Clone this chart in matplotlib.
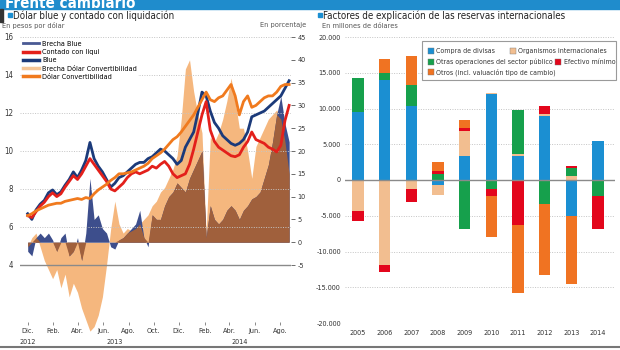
import matplotlib
matplotlib.use('Agg')
import matplotlib.pyplot as plt
import matplotlib.dates as mdates
from matplotlib import font_manager as fm
from matplotlib.lines import Line2D
from matplotlib.patches import Rectangle
import numpy as np
import pandas as pd

# pick a narrow font if one is installed
_fonts = fm.fontManager.ttflist
_names = {f.name for f in _fonts}
if 'Liberation Sans Narrow' in _names:
    plt.rcParams['font.family'] = ['Liberation Sans Narrow', 'DejaVu Sans']
    SCALE = 1.0
    LEG_FS = 5.5
elif any(f.name == 'DejaVu Sans' and 'condensed' in str(f.stretch) for f in _fonts):
    plt.rcParams['font.family'] = ['DejaVu Sans']
    plt.rcParams['font.stretch'] = 'condensed'
    SCALE = 0.95
    LEG_FS = 5.0
else:
    plt.rcParams['font.family'] = ['Liberation Sans', 'DejaVu Sans']
    SCALE = 0.88
    LEG_FS = 4.6
plt.rcParams['axes.unicode_minus'] = False

# ---- left panel data (every 10 days from 1 Dec 2012) ----
fechas = pd.date_range('2012-12-01', periods=64, freq='10D')
blue = [6.7, 6.4, 6.9, 7.2, 7.4, 7.8, 7.95, 7.7, 7.85, 8.2,
        8.5, 8.9, 8.6, 9.0, 9.5, 10.45, 9.6, 9.2, 8.9, 8.5,
        8.1, 8.3, 8.6, 8.7, 8.9, 9.1, 9.3, 9.4, 9.4, 9.6,
        9.7, 9.9, 10.1, 10.0, 9.8, 9.6, 9.3, 9.5, 10.2, 10.6,
        11.0, 12.0, 13.1, 12.9, 12.1, 11.5, 11.2, 10.8, 10.6, 10.4,
        10.3, 10.4, 10.6, 11.0, 11.8, 11.9, 12.0, 12.1, 12.3, 12.5,
        12.7, 12.9, 13.3, 13.7]
ccl = [6.6, 6.5, 6.8, 7.1, 7.3, 7.6, 7.8, 7.6, 7.75, 8.1,
       8.4, 8.7, 8.5, 8.8, 9.2, 9.6, 9.3, 9.0, 8.7, 8.4,
       8.0, 7.9, 8.1, 8.3, 8.6, 8.8, 8.9, 8.8, 8.9, 9.0,
       9.2, 9.1, 9.3, 9.45, 9.2, 8.8, 8.6, 8.7, 8.8, 9.3,
       10.1, 11.0, 11.9, 12.6, 11.1, 10.5, 10.2, 10.05, 9.9, 9.75,
       9.7, 9.8, 10.2, 10.5, 11.0, 10.6, 10.5, 10.4, 10.2, 10.1,
       9.95, 10.3, 11.6, 12.4]
convert = [6.6, 6.7, 6.85, 6.95, 7.05, 7.15, 7.2, 7.25, 7.25, 7.35,
           7.4, 7.45, 7.5, 7.45, 7.55, 7.5, 7.75, 7.95, 8.1, 8.25,
           8.45, 8.6, 8.8, 8.8, 8.85, 8.9, 9.0, 9.1, 9.2, 9.35,
           9.6, 9.75, 9.9, 10.1, 10.35, 10.6, 10.75, 11.0, 11.3, 11.6,
           11.9, 12.3, 12.7, 13.1, 12.7, 12.6, 12.8, 12.9, 13.2, 13.5,
           12.9, 11.9, 12.6, 12.9, 12.3, 12.4, 12.6, 12.8, 12.9, 12.9,
           13.1, 13.4, 13.5, 13.5]
brecha_conv = [-1, 1, 2, -1, -4, -6, -8, -6, -10, -7,
               -12, -9, -11, -14.5, -17, -19.5, -18.5, -16, -12, -5,
               3, 9, 4, 2, 3, 2.5, 3, 4, 5, 6,
               8, 9, 11, 12, 14, 16, 19, 27, 38, 40,
               33, 28, 24, 2, 23, 22, 24, 27, 31, 36,
               31, 25, 25, 20, 14, 21, 23, 25, 27, 28,
               29, 27, 22, 15]
brecha_blue = [-2, -3, 1, 2, 1, 2, 0.5, -2, 1, 2,
               -3, -2, 1, -4, 2, 14, 5, 6, 3, 2,
               -1, -1.5, 0.5, 1, 2, 3, 4, 7, 1, -1,
               6, 5, 5, 8, 10, 11, 13, 12, 11, 14,
               16, 18, 20, 1, 8, 5, 4, 5, 7, 8,
               7, 5, 7, 8, 9.5, 10, 11, 14, 17, 22,
               28, 32, 26, 22]
meses = ['Dic.', 'Feb.', 'Abr.', 'Jun.', 'Ago.', 'Oct.', 'Dic.', 'Feb.', 'Abr.', 'Jun.', 'Ago.']

# ---- right panel data (millones de dólares) ----
anios = ['2005', '2006', '2007', '2008', '2009', '2010', '2011', '2012', '2013', '2014']
compra = [9500, 14000, 10400, -700, 3400, 12000, 3300, 9000, -5100, 5500]
organismos = [-4400, -11900, -1200, -1400, 3400, 200, 400, 300, 600, 0]
otras_op = [4700, 950, 2900, 900, -6900, -1200, 6100, -3400, 1100, -2300]
efectivo = [-1400, -900, -1900, 300, 500, -1000, -6300, 1000, 200, -4600]
otros = [0, 1950, 4000, 1300, 1150, -5750, -9500, -9900, -9500, 0]

W, H = 620, 350
def fx(px): return px / W
def fy(py): return 1 - py / H
def fs(s): return s * SCALE

C_BLUE_BAR = '#1b8fd2'
C_TAN = '#f2be90'
C_GREEN = '#16a04c'
C_RED = '#e3061c'
C_ORANGE = '#f07322'
TXT = '#333333'
GRID = '#c4c4c4'

fig = plt.figure(figsize=(6.2, 3.5), dpi=100)

# header band
fig.patches.append(Rectangle((0, fy(9)), 1, 1 - fy(9), transform=fig.transFigure,
                             color='#1f8ccc', zorder=0))
fig.text(fx(5), fy(7.5), 'Frente cambiario', color='white', fontsize=fs(11.5),
         fontweight='bold', va='baseline')
fig.patches.append(Rectangle((0, fy(22)), fx(3), fy(9) - fy(22), transform=fig.transFigure,
                             color='#333333'))
fig.add_artist(Line2D([0, 1], [fy(347), fy(347)], transform=fig.transFigure,
                      color='#777777', lw=1.5))

# titles
for x0, title in [(8, 'Dólar blue y contado con liquidación'),
                  (318, 'Factores de explicación de las reservas internacionales')]:
    fig.patches.append(Rectangle((fx(x0), fy(17)), fx(3.5), fy(13.5) - fy(17),
                                 transform=fig.transFigure, color=C_BLUE_BAR))
    fig.text(fx(x0 + 5), fy(15.5), title, fontsize=fs(7.4), color='#222222', va='center')
fig.text(fx(2), fy(25.5), 'En pesos por dólar', fontsize=fs(5.6), color='#555555',
         va='center')
fig.text(fx(306), fy(25.5), 'En porcentaje', fontsize=fs(5.6), color='#555555',
         va='center', ha='right')
fig.text(fx(322), fy(25.5), 'En millones de dólares', fontsize=fs(5.6), color='#555555',
         va='center')

# ---------------- left panel ----------------
ax_p = fig.add_axes([fx(20), fy(322), fx(291) - fx(20), fy(37) - fy(322)])
ax_l = ax_p.twinx()
ax_p.yaxis.tick_right()
ax_l.yaxis.tick_left()

x0 = mdates.date2num(pd.Timestamp('2012-12-01'))
x1 = mdates.date2num(pd.Timestamp('2014-08-01'))
ppd = (280 - 27.7) / (x1 - x0)
ax_p.set_xlim(x0 - (27.7 - 20) / ppd, x1 + (291 - 280) / ppd)
ax_p.set_ylim(-17.5, 45)
ax_l.set_ylim(1, 16)

bc = np.array(brecha_conv, float)
bb = np.array(brecha_blue, float)
same = np.sign(bc) == np.sign(bb)
overlap = np.where(same, np.sign(bb) * np.minimum(np.abs(bb), np.abs(bc)), 0)
ax_p.fill_between(fechas, 0, bc, color='#f5b77e', lw=0, clip_on=False)
ax_p.fill_between(fechas, 0, bb, color='#3d4e8c', lw=0, clip_on=False)
ax_p.fill_between(fechas, 0, overlap, color='#a0603c', lw=0, clip_on=False)

for v in range(6, 17, 2):
    ax_l.axhline(v, color=GRID, lw=0.7, ls=(0, (1, 1.5)), zorder=0)
ax_l.axhline(4, color='#8a8a8a', lw=1.0)

ax_l.plot(fechas, blue, color='#1b3a7a', lw=2.0)
ax_l.plot(fechas, ccl, color='#e3201b', lw=2.0)
ax_l.plot(fechas, convert, color='#f07a1e', lw=2.0)

for a in (ax_p, ax_l):
    for s in a.spines.values():
        s.set_visible(False)

ax_p.set_yticks(range(-5, 50, 5))
ax_p.tick_params(axis='y', length=3, width=0.6, color='#555555', pad=1.5,
                 labelsize=fs(5.5), labelcolor=TXT)
ax_l.set_yticks(range(4, 17, 2))
ax_l.tick_params(axis='y', length=0, pad=5, labelsize=fs(6), labelcolor=TXT)

tick_dates = pd.date_range('2012-12-01', '2014-08-01', freq='2MS')
ax_p.set_xticks(mdates.date2num(tick_dates))
ax_p.set_xticklabels(meses)
ax_p.tick_params(axis='x', length=2, width=0.6, color='#777777', pad=2,
                 labelsize=fs(5.5), labelcolor=TXT)
for xp, yr in [(27.7, '2012'), (115, '2013'), (240, '2014')]:
    fig.text(fx(xp), fy(342), yr, fontsize=fs(5.5), color=TXT, ha='center', va='center')

handles = [Line2D([], [], color='#4a5a94', lw=2),
           Line2D([], [], color='#e3201b', lw=2.5),
           Line2D([], [], color='#1b3a7a', lw=2.5),
           Line2D([], [], color='#f5c596', lw=2.5),
           Line2D([], [], color='#f07a1e', lw=2.5)]
labels = ['Brecha Blue', 'Contado con liqui', 'Blue', 'Brecha Dólar Convertibilidad',
          'Dólar Convertibilidad']
fig.legend(handles, labels, loc='upper left', bbox_to_anchor=(fx(22), fy(40)),
           frameon=True, facecolor='white', edgecolor='none', framealpha=1,
           fontsize=fs(5.5), handlelength=2.2, handletextpad=0.5, labelspacing=0.3,
           borderpad=0.1, borderaxespad=0)

# ---------------- right panel ----------------
ax_b = fig.add_axes([fx(345), fy(323), fx(615) - fx(345), fy(37) - fy(323)])
x = np.arange(len(anios))
series = [(compra, C_BLUE_BAR), (organismos, C_TAN), (otras_op, C_GREEN),
          (efectivo, C_RED), (otros, C_ORANGE)]
pos = np.zeros(len(anios))
neg = np.zeros(len(anios))
for vals, col in series:
    v = np.array(vals, float)
    bottom = np.where(v >= 0, pos, neg)
    ax_b.bar(x, v, 0.42, bottom=bottom, color=col, edgecolor='none', zorder=2)
    pos += np.clip(v, 0, None)
    neg += np.clip(v, None, 0)

ax_b.set_xlim(-0.49, 9.64)
ax_b.set_ylim(-20000, 20000)
yt = list(range(-20000, 20001, 5000))
ax_b.set_yticks(yt)
ax_b.set_yticklabels([f'{v:,}'.replace(',', '.') for v in yt])
for v in yt:
    if v != 0:
        ax_b.axhline(v, color=GRID, lw=0.7, ls=(0, (1, 1.5)), zorder=0)
ax_b.axhline(0, color='#8a8a8a', lw=1.0, zorder=3)
ax_b.set_xticks(x)
ax_b.set_xticklabels(anios)
ax_b.tick_params(axis='both', length=0, labelsize=fs(5.5), labelcolor=TXT)
ax_b.tick_params(axis='y', pad=3)
ax_b.tick_params(axis='x', pad=5)
for s in ax_b.spines.values():
    s.set_visible(False)

# legend box (custom layout like the original)
fig.patches.append(Rectangle((fx(422), fy(80)), fx(616) - fx(422), fy(41) - fy(80),
                             transform=fig.transFigure, facecolor='white',
                             edgecolor='#9a9a9a', lw=0.8, zorder=5))
leg_items = [(428, 51, C_BLUE_BAR, 'Compra de divisas'),
             (510, 51, C_TAN, 'Organismos internacionales'),
             (428, 61.5, C_GREEN, 'Otras operaciones del sector público'),
             (555, 61.5, C_RED, 'Efectivo mínimo'),
             (428, 72, C_ORANGE, 'Otros (incl. valuación tipo de cambio)')]
for xp, yp, col, lab in leg_items:
    fig.patches.append(Rectangle((fx(xp), fy(yp + 3)), fx(6), fy(yp - 3) - fy(yp + 3),
                                 transform=fig.transFigure, facecolor=col,
                                 edgecolor='#777777', lw=0.3, zorder=6))
    fig.text(fx(xp + 8.5), fy(yp), lab, fontsize=LEG_FS, color=TXT, va='center', zorder=7)

fig.savefig('out.png', dpi=100)
